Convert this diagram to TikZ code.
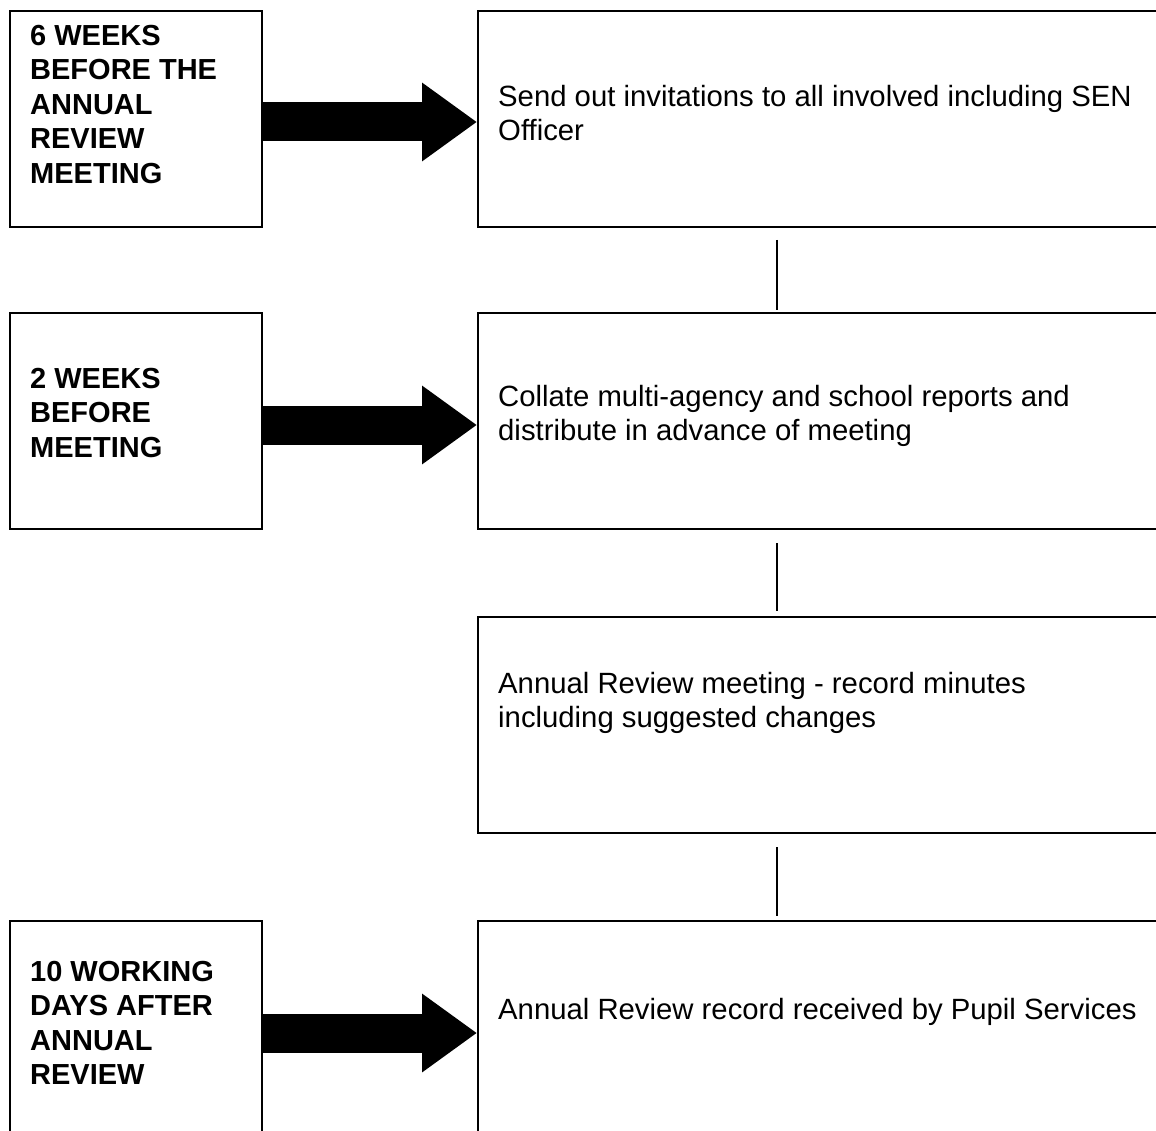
\documentclass[tikz,border=0pt]{standalone}
\usepackage{fontspec}
\setmainfont{Liberation Sans}
\usetikzlibrary{calc,arrows.meta}
\begin{document}
\begin{tikzpicture}[x=1pt,y=-1pt,
  box/.style={draw=black,line width=2pt,rectangle,inner sep=0pt,anchor=north west,minimum height=216pt},
  lbox/.style={box,minimum width=252pt},
  rbox/.style={box,minimum width=700pt},
  ltext/.style={anchor=north west,inner sep=0pt,align=left,font=\fontsize{29pt}{34.5pt}\selectfont\bfseries},
  rtext/.style={anchor=north west,inner sep=0pt,align=left,font=\fontsize{29.3pt}{34pt}\selectfont},
  blockarrow/.style={line width=39pt,-{Triangle[length=55pt,width=75pt]}},
  link/.style={line width=1.5pt}]
\clip (0,0) rectangle (1156,1131);
% left boxes
\node[lbox] (l1) at (9,10) {};
\node[lbox] (l2) at (9,312) {};
\node[lbox,minimum height=220pt] (l4) at (9,920) {};
% right boxes
\node[rbox] (r1) at (477,10) {};
\node[rbox] (r2) at (477,312) {};
\node[rbox] (r3) at (477,616) {};
\node[rbox,minimum height=220pt] (r4) at (477,920) {};
% texts
\node[ltext] (t1) at (30,25) {6 WEEKS\\BEFORE THE\\ANNUAL\\REVIEW\\MEETING};
\node[ltext] (t2) at (30,368) {2 WEEKS\\BEFORE\\MEETING};
\node[ltext] (t4) at (30,961) {10 WORKING\\DAYS AFTER\\ANNUAL\\REVIEW};
\node[rtext] (s1) at (498,85) {Send out invitations to all involved including SEN\\Officer};
\node[rtext] (s2) at (498,385) {Collate multi-agency and school reports and\\distribute in advance of meeting};
\node[rtext] (s3) at (498,672) {Annual Review meeting - record minutes\\including suggested changes};
\node[rtext] (s4) at (498,998) {Annual Review record received by Pupil Services};
% block arrows
\draw[blockarrow] ($(l1.north east)+(0,112)$) -- ($(r1.north west)+(0,112)$);
\draw[blockarrow] ($(l2.north east)+(0,113)$) -- ($(r2.north west)+(0,113)$);
\draw[blockarrow] ($(l4.north east)+(0,113)$) -- ($(r4.north west)+(0,113)$);
% connectors
\draw[link] ($(r1.south west)+(300,12)$) -- ($(r2.north west)+(300,-2)$);
\draw[link] ($(r2.south west)+(300,13)$) -- ($(r3.north west)+(300,-5)$);
\draw[link] ($(r3.south west)+(300,13)$) -- ($(r4.north west)+(300,-4)$);
\end{tikzpicture}
\end{document}
